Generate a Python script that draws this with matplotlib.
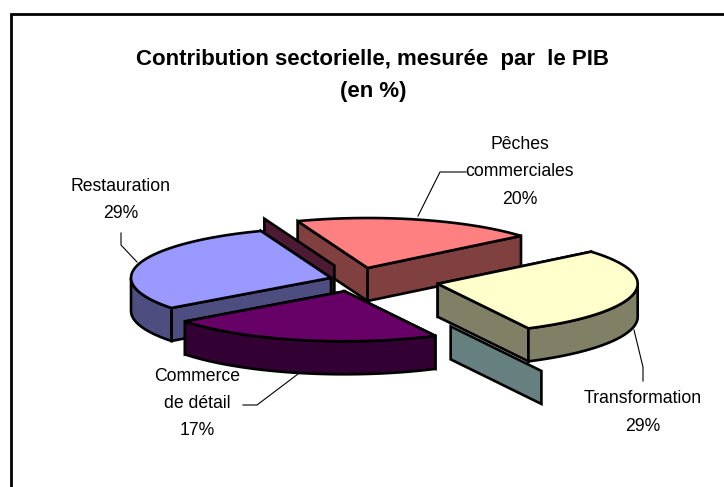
import numpy as np
import matplotlib
matplotlib.use("Agg")
import matplotlib.pyplot as plt
from matplotlib.patches import Polygon

# Data: angular shares as drawn in the picture (two slices have no width, only a wall)
slice_names = ["Pêches commerciales", "Transformation", "Sans nom A", "Commerce de détail", "Restauration", "Sans nom B"]
slice_shares = [19.6, 28.6, 0, 22.2, 29.6, 0]
label_texts = ["Pêches\ncommerciales\n20%", "Transformation\n29%", "Commerce\nde détail\n17%", "Restauration\n29%"]
title_text = "Contribution sectorielle, mesurée  par  le PIB\n(en %)"

# Styling / geometry
START_ANGLE = 110.5
CENTER = (355.4, 279.6)
RX, RY, DEPTH = 200, 50, 33
explode = [0.24, 0.42, 1.05, 0.24, 0.127, 0.30]
top_colors = ["#FF8080", "#FFFFCC", "#CCFFFF", "#660066", "#9999FF", "#993366"]
wall_colors = ["#804040", "#808066", "#668080", "#330033", "#4D4D80", "#4D1A33"]
draw_order = [0, 5, 4, 1, 2, 3]
EDGE = dict(edgecolor="black", linewidth=1.9, joinstyle="miter")

plt.rcParams["font.family"] = ["Liberation Sans", "DejaVu Sans"]
fig = plt.figure(figsize=(7.24, 4.87), dpi=100, facecolor="white")
ax = fig.add_axes([0, 0, 1, 1])
ax.set_xlim(0, 724)
ax.set_ylim(487, 0)
ax.axis("off")

# Chart frame (top and left edges visible in the crop)
ax.plot([11, 11, 724], [487, 14, 14], color="black", lw=2, solid_joinstyle="miter")

edges = START_ANGLE - np.cumsum([0] + slice_shares) * 3.6


def pt(x0, y0, deg):
    a = np.radians(deg)
    return x0 + RX * np.cos(a), y0 - RY * np.sin(a)


def wall(p, q, color):
    poly = [p, q, (q[0], q[1] + DEPTH), (p[0], p[1] + DEPTH)]
    ax.add_patch(Polygon(poly, closed=True, facecolor=color, **EDGE))


for i in draw_order:
    a0, a1 = edges[i], edges[i + 1]
    mid = np.radians((a0 + a1) / 2)
    ox = CENTER[0] + explode[i] * RX * np.cos(mid)
    oy = CENTER[1] - explode[i] * RY * np.sin(mid)
    apex = (ox, oy)
    wc, tc = wall_colors[i], top_colors[i]

    if a0 == a1:
        wall(apex, pt(ox, oy, a0), wc)
        continue

    ts = np.linspace(a0, a1, 80)
    arc = [pt(ox, oy, t) for t in ts]
    # radial walls: the one further back first
    for end in sorted((arc[0], arc[-1]), key=lambda p: p[1]):
        wall(apex, end, wc)
    # outer curved wall (only the part facing the viewer)
    visible = [t for t in ts if np.sin(np.radians(t)) <= 0]
    if visible:
        front = [pt(ox, oy, t) for t in visible]
        poly = front + [(x, y + DEPTH) for x, y in reversed(front)]
        ax.add_patch(Polygon(poly, closed=True, facecolor=wc, **EDGE))
    ax.add_patch(Polygon([apex] + arc, closed=True, facecolor=tc, **EDGE))

# Title and labels
ax.text(373, 75.5, title_text, ha="center", va="center", fontsize=16, fontweight="bold", linespacing=1.68)
label_pos = [(520, 172), (643, 412.5), (197, 403.5), (121, 200)]
for s, (x, y) in zip(label_texts, label_pos):
    ax.text(x, y, s, ha="center", va="center", fontsize=12.7, linespacing=1.78)

# Leader lines
leaders = [
    ([466, 440, 418], [172, 172, 216]),
    ([634, 643, 643], [330, 367, 381]),
    ([243, 257, 298], [405, 405, 374]),
    ([121, 121, 137], [233, 245, 262]),
]
for xs, ys in leaders:
    ax.plot(xs, ys, color="black", lw=0.8)

fig.savefig("out.png", dpi=100)
